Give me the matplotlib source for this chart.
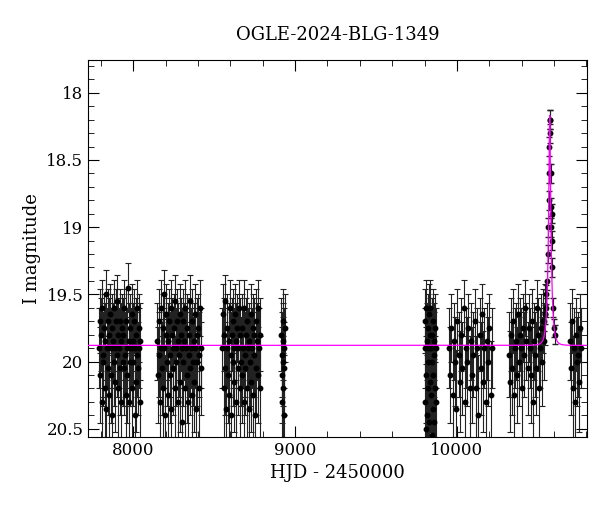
import numpy as np
import matplotlib
matplotlib.use("Agg")
import matplotlib.pyplot as plt
from matplotlib.ticker import MultipleLocator

title = "OGLE-2024-BLG-1349"
xlabel = "HJD - 2450000"
ylabel = "I magnitude"

# observing seasons: (start, end) in HJD-2450000
season_ranges = [(7790, 8045), (8150, 8420), (8550, 8785), (8915, 8935),
                 (9800, 9870), (9950, 10215), (10320, 10545), (10700, 10765)]
season_mags = [
 [19.9,19.7,20.1,19.8,20.3,19.6,19.95,20.0,19.75,20.2,19.85,19.5,20.35,19.9,19.7,20.05,19.8,20.25,19.65,19.9,20.1,19.75,20.4,19.85,19.6,20.0,19.9,20.15,19.7,19.95,19.55,20.2,19.8,19.9,20.05,19.7,20.3,19.85,19.75,20.0,
  19.8,20.05,19.6,19.95,20.25,19.7,19.9,20.1,19.45,19.85,20.3,19.75,20.0,19.9,19.65,20.2,19.85,20.0,19.7,20.4,19.9,19.8,20.15,19.6,19.95,20.05,19.75,19.9,20.3,19.85],
 [19.85,20.1,19.7,19.95,20.3,19.6,19.9,20.05,19.75,20.2,19.5,19.9,20.4,19.8,19.65,20.0,19.85,20.25,19.7,19.95,20.1,19.6,20.35,19.8,19.9,20.05,19.75,20.2,19.55,19.9,20.0,19.7,20.3,19.85,19.95,19.65,20.15,19.8,20.45,19.9,
  19.7,20.0,19.85,20.2,19.6,19.9,20.1,19.75,20.3,19.95,19.8,20.05,19.55,19.9,20.25,19.7,20.0,19.85,20.15,19.65,19.9,20.35,19.8,20.0,19.75,19.95,20.2,19.6,19.9,20.05],
 [19.9,19.65,20.2,19.8,20.05,19.55,20.35,19.9,19.75,20.1,19.85,20.25,19.6,19.95,20.4,19.8,19.7,20.0,19.9,20.15,19.65,20.3,19.85,19.75,20.05,19.9,19.6,20.2,19.8,20.0,
  19.75,20.1,19.9,20.3,19.6,19.95,20.05,19.8,20.2,19.7,19.9,20.35,19.85,20.0,19.65,20.15,19.9,19.75,20.25,19.8,19.95,20.4,19.7,20.05,19.85,19.6,20.1,19.9,20.2,19.8],
 [19.8,20.1,19.95,20.3,19.7,20.0,20.2,19.85,20.4,19.9,20.05,19.75],
 [19.7,20.3,19.9,20.5,19.6,20.1,19.85,20.4,19.75,20.0,20.2,19.65,20.45,19.9,19.8,20.15,
  19.6,20.25,19.9,20.55,19.8,20.0,20.35,19.7,20.1,19.85,20.45,19.95,19.75,20.2,19.9,20.3],
 [19.9,20.1,19.75,20.25,19.85,20.0,20.35,19.7,19.95,20.15,19.8,20.05,19.6,20.3,19.9,20.0,19.75,20.2,19.85,20.1,
  19.95,19.7,20.2,19.9,20.4,19.8,20.05,19.65,20.15,19.9,20.3,19.85,20.0,19.75,20.25,19.9],
 [19.95,20.15,19.8,20.05,19.7,20.25,19.9,19.85,20.1,19.65,20.0,19.8,19.9,20.2,19.75,19.95,19.6,19.85,20.05,19.75,
  19.9,20.1,19.7,20.3,19.85,19.95,20.05,19.6,19.8,20.2,19.9,19.75,20.0,19.7,19.85,19.65],
 [19.85,20.05,19.7,20.2,19.9,20.3,19.8,20.0,19.95,20.15,19.75,19.9],
]
# event points (HJD, mag)
event_t = [10540, 10545, 10548, 10552, 10556, 10560, 10563, 10566, 10568, 10570, 10572, 10574,
           10576, 10578, 10580, 10582, 10584, 10587, 10590, 10594, 10600, 10606]
event_m = [19.7, 19.65, 19.6, 19.5, 19.4, 19.2, 19.0, 18.8, 18.6, 18.4, 18.2, 18.2,
           18.3, 18.6, 18.85, 19.0, 18.9, 19.1, 19.3, 19.6, 19.75, 19.8]

# microlensing model parameters
t0, u0, tE, base = 10573.0, 0.21, 18.0, 19.88

fig = plt.figure(figsize=(6, 5.12), dpi=100)
ax = fig.add_axes([0.147, 0.147, 0.831, 0.736])

for (s, e), mags in zip(season_ranges, season_mags):
    t = np.linspace(s, e, len(mags))
    m = np.array(mags)
    err = 0.18 + 0.3 * np.clip(m - 19.5, 0, 1)
    ax.errorbar(t, m, yerr=err, fmt='o', ms=3.2, color='black', ecolor='#222222',
                elinewidth=0.8, capsize=2, capthick=0.8)
ax.errorbar(event_t, event_m, yerr=0.07, fmt='o', ms=3.2, color='black',
            ecolor='#222222', elinewidth=0.8, capsize=2)

tt = np.linspace(7720, 10810, 6000)
u = np.sqrt(u0**2 + ((tt - t0) / tE)**2)
A = (u**2 + 2) / (u * np.sqrt(u**2 + 4))
ax.plot(tt, base - 2.5 * np.log10(A), color='#ff00ff', lw=0.9, zorder=5)

ax.set_xlim(7722, 10802)
ax.set_ylim(20.56, 17.755)
ax.xaxis.set_major_locator(MultipleLocator(1000))
ax.xaxis.set_minor_locator(MultipleLocator(200))
ax.yaxis.set_major_locator(MultipleLocator(0.5))
ax.yaxis.set_minor_locator(MultipleLocator(0.1))
ax.yaxis.set_major_formatter(matplotlib.ticker.FuncFormatter(lambda v, p: f"{v:g}"))
ax.tick_params(which='both', direction='in', top=True, right=True, labelsize=12)
ax.tick_params(which='major', length=8)
ax.tick_params(which='minor', length=4)
for lab in ax.get_xticklabels() + ax.get_yticklabels():
    lab.set_fontfamily("DejaVu Serif")
ax.set_title(title, fontsize=13, family="DejaVu Serif", pad=14)
ax.set_xlabel(xlabel, fontsize=13, family="DejaVu Serif")
ax.set_ylabel(ylabel, fontsize=13, family="DejaVu Serif")
fig.savefig("out.png", dpi=100)
